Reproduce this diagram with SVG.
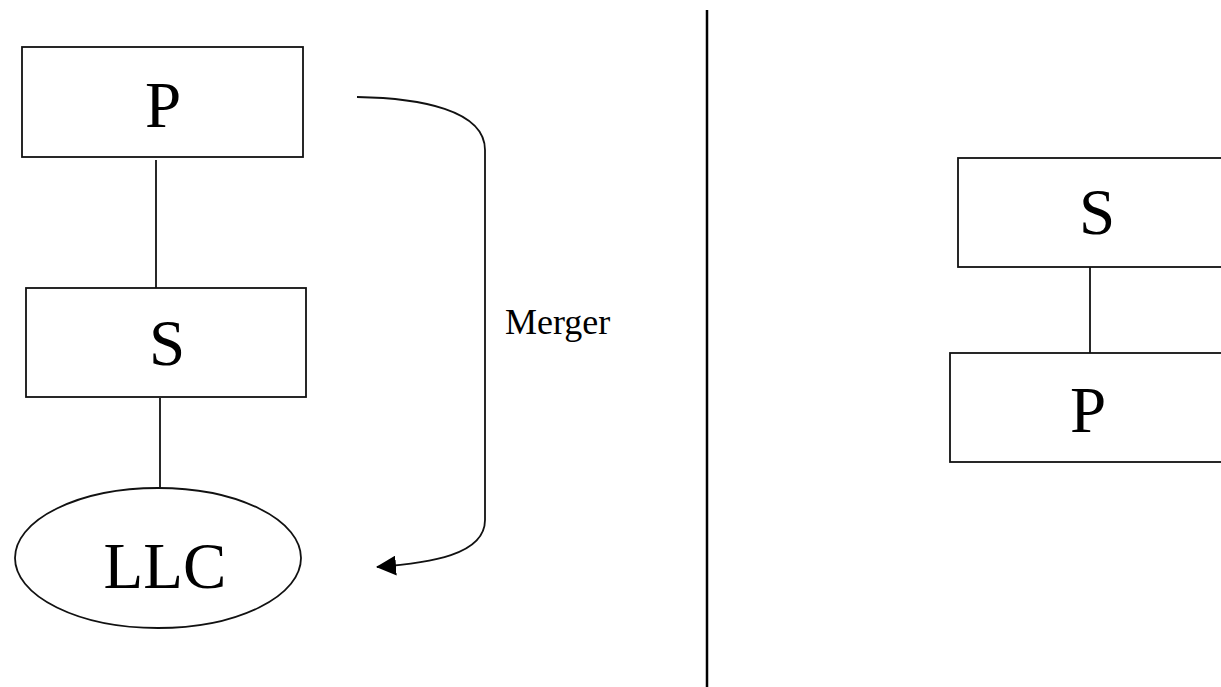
<svg xmlns="http://www.w3.org/2000/svg" width="1221" height="687" viewBox="0 0 1221 687">
<style>
.box{fill:#fff;stroke:#111;stroke-width:1.8}
.ln{fill:none;stroke:#111;stroke-width:1.8}
.big{font-family:"Liberation Serif","Times New Roman",serif;font-size:65px;fill:#000;text-anchor:middle}
.lbl{font-family:"Liberation Serif","Times New Roman",serif;font-size:36px;fill:#000}
</style>
<defs>
<marker id="ah2" viewBox="0 0 20 20" refX="19" refY="10" markerWidth="20" markerHeight="20" orient="auto" markerUnits="userSpaceOnUse">
<path d="M0,0 L20,10 L0,20 Z" fill="#000"/>
</marker>
</defs>
<rect width="1221" height="687" fill="#fff"/>
<g id="connectors">
<line class="ln" x1="156" y1="160" x2="156" y2="288"/>
<line class="ln" x1="160" y1="398" x2="160" y2="488"/>
<line class="ln" x1="1090" y1="267" x2="1090" y2="353"/>
<path class="ln" stroke-width="2.2" d="M357,97 C420,98 485,110 485,150 L485,520 C485,555 430,563 377,567" marker-end="url(#ah2)"/>
</g>
<g id="divider">
<line x1="707" y1="10" x2="707" y2="687" stroke="#000" stroke-width="2.5"/>
</g>
<g id="node-P-left">
<rect class="box" x="22" y="47" width="281" height="110"/>
<text class="big" x="163" y="127">P</text>
</g>
<g id="node-S-left">
<rect class="box" x="26" y="288" width="280" height="109"/>
<text class="big" x="167" y="365">S</text>
</g>
<g id="node-LLC">
<ellipse class="box" cx="158" cy="558" rx="143" ry="70"/>
<text class="big" x="165" y="588">LLC</text>
</g>
<g id="label-merger">
<text class="lbl" x="505" y="334">Merger</text>
</g>
<g id="node-S-right">
<rect class="box" x="958" y="158" width="280" height="109"/>
<text class="big" x="1097" y="234">S</text>
</g>
<g id="node-P-right">
<rect class="box" x="950" y="353" width="290" height="109"/>
<text class="big" x="1088" y="432">P</text>
</g>
</svg>
